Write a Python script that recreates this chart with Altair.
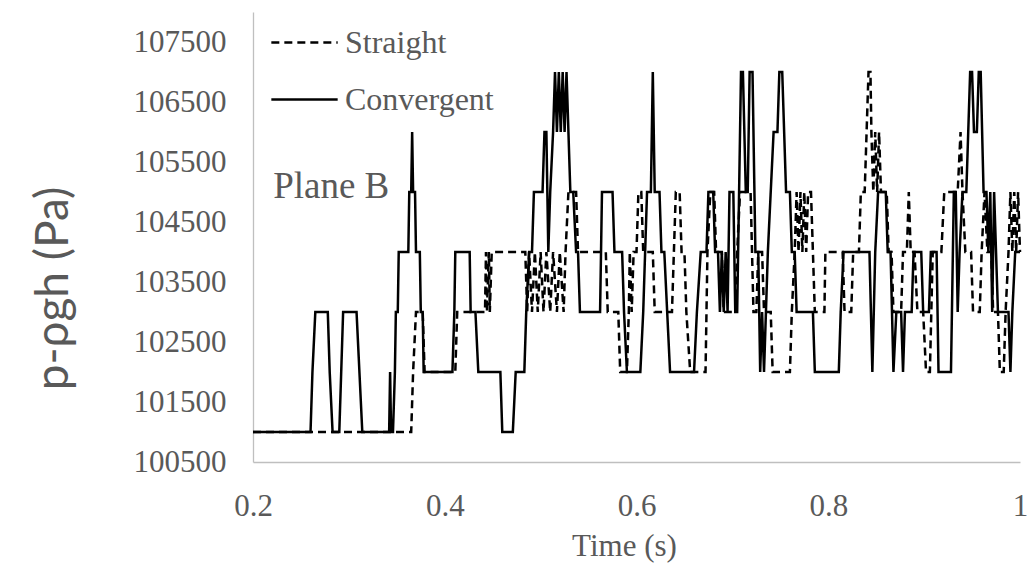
import altair as alt
import pandas as pd

# ---------------- data ----------------
series_names = ["Straight", "Convergent"]

straight_t = [0.200, 0.365, 0.367, 0.370, 0.377, 0.379, 0.411, 0.413, 0.442, 0.443, 0.444, 0.446, 0.447, 0.449,
              0.484, 0.486, 0.488, 0.491, 0.494, 0.497, 0.500, 0.503, 0.506, 0.510, 0.513, 0.517, 0.520, 0.524,
              0.526, 0.529, 0.537, 0.539, 0.568, 0.570, 0.581, 0.583, 0.590, 0.592, 0.593, 0.595, 0.597, 0.600,
              0.602, 0.605, 0.607, 0.617, 0.619, 0.637, 0.639, 0.641, 0.645, 0.647, 0.650, 0.652, 0.656, 0.672,
              0.674, 0.677, 0.681, 0.683, 0.689, 0.691, 0.703, 0.705, 0.708, 0.719, 0.722, 0.725, 0.727, 0.731,
              0.733, 0.740, 0.742, 0.760, 0.762, 0.765, 0.767, 0.769, 0.771, 0.773, 0.775, 0.777, 0.779, 0.782,
              0.784, 0.786, 0.796, 0.797, 0.815, 0.817, 0.824, 0.826, 0.832, 0.834, 0.838, 0.840, 0.842, 0.844,
              0.845, 0.847, 0.849, 0.851, 0.853, 0.855, 0.861, 0.863, 0.866, 0.868, 0.876, 0.878, 0.882, 0.884,
              0.886, 0.890, 0.893, 0.899, 0.902, 0.906, 0.909, 0.918, 0.921, 0.935, 0.938, 0.940, 0.943, 0.949,
              0.951, 0.958, 0.960, 0.963, 0.966, 0.970, 0.972, 0.977, 0.979, 0.983, 0.985, 0.988, 0.990, 0.992,
              0.994, 0.996, 0.998, 1.000]
straight_p = [101000, 101000, 102000, 103000, 103000, 102000, 102000, 103000, 103000, 104000, 103000, 104000, 103000, 104000,
              104000, 103000, 104000, 103000, 104000, 103000, 104000, 103000, 104000, 103000, 104000, 103000, 104000, 103000,
              104000, 105000, 105000, 104000, 104000, 103000, 103000, 102000, 102000, 103000, 104000, 103000, 104000, 104000,
              105000, 105000, 104000, 104000, 103000, 103000, 104000, 105000, 105000, 104000, 104000, 103000, 102000, 102000,
              104000, 105000, 105000, 104000, 104000, 103000, 103000, 104000, 105000, 105000, 103000, 103000, 104000, 104000,
              103000, 103000, 102000, 102000, 103000, 104000, 105000, 104000, 105000, 104000, 105000, 104000, 105000, 105000,
              104000, 103000, 103000, 104000, 104000, 103000, 103000, 104000, 104000, 105000, 105000, 106000, 107000, 107000,
              106000, 105000, 106000, 105000, 106000, 105000, 105000, 104000, 104000, 103000, 103000, 104000, 104000, 105000,
              104000, 104000, 103000, 103000, 102000, 102000, 104000, 104000, 105000, 105000, 106000, 105000, 104000, 104000,
              103000, 103000, 104000, 105000, 104000, 104000, 103000, 103000, 102000, 102000, 103000, 104000, 105000, 104000,
              105000, 104000, 105000, 104000]

convergent_t = [0.200, 0.260, 0.262, 0.265, 0.278, 0.280, 0.283, 0.290, 0.292, 0.294, 0.308, 0.311, 0.314, 0.342,
                0.343, 0.344, 0.346, 0.348, 0.349, 0.351, 0.352, 0.362, 0.363, 0.365, 0.366, 0.367, 0.369, 0.370,
                0.374, 0.375, 0.377, 0.378, 0.408, 0.410,
                0.411, 0.426, 0.427, 0.432, 0.435, 0.458, 0.460, 0.471, 0.474, 0.483, 0.485, 0.488, 0.491, 0.493,
                0.502, 0.504, 0.506, 0.508, 0.510, 0.513, 0.515, 0.517, 0.519, 0.521, 0.523, 0.525, 0.527, 0.529,
                0.531, 0.534, 0.537, 0.539, 0.541, 0.562, 0.564, 0.575, 0.577, 0.585, 0.587, 0.590, 0.604, 0.607,
                0.609, 0.611, 0.615, 0.617, 0.619, 0.624, 0.626, 0.629, 0.632, 0.635, 0.660, 0.663, 0.667, 0.673,
                0.675, 0.680, 0.682, 0.685, 0.687, 0.689, 0.691, 0.693, 0.695, 0.697, 0.701, 0.703, 0.705, 0.707,
                0.709, 0.711, 0.714, 0.716, 0.718, 0.721, 0.724, 0.727, 0.729, 0.731, 0.733, 0.735, 0.737, 0.740,
                0.743, 0.747, 0.749, 0.752, 0.754, 0.756, 0.760, 0.762, 0.765, 0.767, 0.784, 0.786, 0.811, 0.813,
                0.816, 0.843, 0.846, 0.849, 0.852, 0.860, 0.862, 0.865, 0.868, 0.871, 0.876, 0.878, 0.880, 0.887,
                0.889, 0.897, 0.899, 0.905, 0.907, 0.913, 0.915, 0.928, 0.931, 0.933, 0.935, 0.937, 0.940, 0.944,
                0.946, 0.948, 0.950, 0.952, 0.955, 0.957, 0.959, 0.962, 0.965, 0.967, 0.969, 0.971, 0.973, 0.975,
                0.977, 0.988, 0.990, 0.992, 0.995, 1.000]
convergent_p = [101000, 101000, 102000, 103000, 103000, 102000, 101000, 101000, 102000, 103000, 103000, 102000, 101000, 101000,
                102000, 101000, 101000, 102000, 103000, 103000, 104000, 104000, 105000, 105000, 106000, 105000, 105000, 104000,
                104000, 103000, 103000, 102000, 102000, 103000,
                104000, 104000, 103000, 103000, 102000, 102000, 101000, 101000, 102000, 102000, 103000, 104000, 104000, 105000,
                105000, 106000, 106000, 104000, 105000, 106000, 107000, 106000, 107000, 106000, 107000, 106000, 107000, 106000,
                105000, 105000, 104000, 104000, 103000, 103000, 105000, 105000, 104000, 104000, 103000, 102000, 102000, 103000,
                104000, 105000, 105000, 107000, 105000, 105000, 104000, 104000, 103000, 102000, 102000, 103000, 104000, 104000,
                105000, 105000, 104000, 104000, 103000, 104000, 103000, 104000, 103000, 105000, 105000, 103000, 103000, 105000,
                107000, 107000, 105000, 105000, 107000, 107000, 104000, 104000, 102000, 103000, 102000, 103000, 104000, 105000,
                106000, 106000, 107000, 107000, 106000, 105000, 105000, 104000, 104000, 103000, 103000, 102000, 102000, 103000,
                104000, 104000, 102000, 104000, 105000, 105000, 104000, 104000, 102000, 103000, 103000, 102000, 103000, 103000,
                104000, 104000, 103000, 103000, 104000, 104000, 102000, 102000, 105000, 105000, 103000, 104000, 105000, 105000,
                106000, 107000, 107000, 106000, 106000, 107000, 107000, 105000, 105000, 104000, 105000, 103000, 105000, 104000,
                103000, 103000, 102000, 103000, 104000, 104000]

x_ticks = [0.2, 0.4, 0.6, 0.8, 1.0]
y_ticks = [100500, 101500, 102500, 103500, 104500, 105500, 106500, 107500]

annotation_text = ["Plane B"]
annotation_t = [0.221]
annotation_p = [104900]

# ---------------- build table ----------------
df = pd.concat([
    pd.DataFrame({"t": straight_t, "p": straight_p, "series": series_names[0]}),
    pd.DataFrame({"t": convergent_t, "p": convergent_p, "series": series_names[1]}),
], ignore_index=True)
df["idx"] = range(len(df))

ann = pd.DataFrame({"t": annotation_t, "p": annotation_p, "label": annotation_text})

GRAY = "#595959"
AXIS_GRAY = "#bfbfbf"
SERIF = "Liberation Serif"

x_enc = alt.X("t:Q", scale=alt.Scale(domain=[0.2, 1.0], nice=False, zero=False),
              axis=alt.Axis(values=x_ticks, format="~g", title="Time (s)", grid=False, ticks=False,
                            domainColor=AXIS_GRAY, domainWidth=1.3,
                            labelFont=SERIF, labelFontSize=31, labelColor=GRAY, labelPadding=29,
                            labelFlush=False,
                            titleFont=SERIF, titleFontSize=31, titleColor=GRAY, titleFontWeight="normal",
                            titleX=371, titleY=84, titleBaseline="middle", titleAlign="center"))
y_enc = alt.Y("p:Q", scale=alt.Scale(domain=[100500, 108000], nice=False, zero=False),
              axis=alt.Axis(values=y_ticks, format="d", title="p-ρgh (Pa)", grid=False, ticks=False,
                            domainColor=AXIS_GRAY, domainWidth=1.3,
                            labelFont=SERIF, labelFontSize=31, labelColor=GRAY, labelPadding=27,
                            titleFont="Lato", titleFontSize=46, titleColor=GRAY, titleFontWeight="normal",
                            titleX=-200, titleY=276, titleAngle=270, titleBaseline="middle",
                            titleAlign="center"))

dash_scale = alt.Scale(domain=series_names, range=[[8, 5], [1, 0]])
legend = alt.Legend(title=None, orient="none", legendX=17, legendY=-4,
                    symbolType="stroke", symbolSize=4400, symbolStrokeWidth=2.5,
                    symbolStrokeColor="black", symbolFillColor="black",
                    labelFont=SERIF, labelFontSize=32, labelColor=GRAY, labelOffset=6,
                    rowPadding=6)

base = alt.Chart(df).mark_line(color="black", strokeWidth=2.5).encode(
    x=x_enc, y=y_enc,
    strokeDash=alt.StrokeDash("series:N", scale=dash_scale, legend=legend),
    order="idx:Q",
)

straight_layer = base.transform_filter(alt.datum.series == series_names[0])
conv_layer = base.transform_filter(alt.datum.series == series_names[1])

text_layer = alt.Chart(ann).mark_text(font=SERIF, fontSize=37, color=GRAY, align="left",
                                      baseline="alphabetic").encode(
    x="t:Q", y="p:Q", text="label:N")

chart = alt.layer(straight_layer, conv_layer, text_layer).properties(
    width=767, height=450,
    autosize=alt.AutoSizeParams(type="none"),
    padding={"left": 253, "top": 12, "right": 11, "bottom": 104},
    background="white",
).configure_view(stroke=None)

chart.save("out.html", embed_options={"renderer": "svg", "actions": False})
